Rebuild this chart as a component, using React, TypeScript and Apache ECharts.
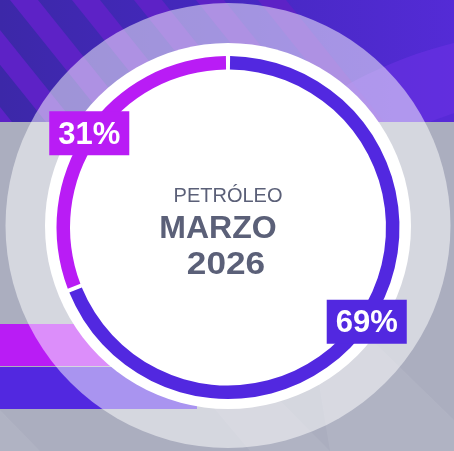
import React, { useEffect, useRef } from "react";
import * as echarts from "echarts";

// ---- data ----
const sliceNames = ["Segmento 69", "Segmento 31"];
const sliceValues = [69, 31];
const titleLines = ["PETRÓLEO", "MARZO", "2026"];

const BLUE = "#5228e0";
const MAGENTA = "#b91cf5";
const TEXT = "#5b6078";
const FONT = "'Liberation Sans', Arial, sans-serif";

export default function App() {
  const ref = useRef<HTMLDivElement>(null);
  useEffect(() => {
    if (!ref.current) return;
    const chart = echarts.init(ref.current, undefined, { renderer: "svg" });
    const W = 454;
    const H = 451;
    const TOP = 122;

    const stripes: any[] = [];
    for (let i = -3; i < 5; i++) {
      const x0 = i * 62 + 10;
      stripes.push({
        type: "polygon",
        z: 0,
        silent: true,
        shape: { points: [[x0, 0], [x0 + 28, 0], [x0 + 28 + 98, TOP], [x0 + 98, TOP]] },
        style: { fill: "#5d22c6" },
      });
    }
    const greyBands: any[] = [
      { pts: [[330, 451], [454, 451], [454, 420], [300, 270]] },
      { pts: [[250, 451], [330, 451], [200, 320], [140, 320]] },
      { pts: [[0, 410], [0, 451], [40, 451]] },
    ].map((b) => ({
      type: "polygon",
      z: 0,
      silent: true,
      shape: { points: b.pts },
      style: { fill: "rgba(255,255,255,0.07)" },
    }));

    const colors = [BLUE, MAGENTA];
    const option: any = {
      animation: false,
      graphic: [
        {
          type: "rect",
          z: 0,
          silent: true,
          shape: { x: 0, y: 0, width: W, height: TOP },
          style: {
            fill: new echarts.graphic.LinearGradient(0, 0, 1, 0, [
              { offset: 0, color: "#3c28a8" },
              { offset: 0.5, color: "#4528c0" },
              { offset: 1, color: "#542bd6" },
            ]),
          },
        },
        ...stripes,
        {
          type: "circle",
          z: 0,
          silent: true,
          shape: { cx: 560, cy: 470, r: 440 },
          style: { fill: "rgba(110,50,230,0.55)" },
        },
        {
          type: "circle",
          z: 0,
          silent: true,
          shape: { cx: 600, cy: 560, r: 470 },
          style: { fill: "rgba(80,40,210,0.6)" },
        },
        { type: "rect", z: 0, silent: true, shape: { x: 0, y: TOP, width: W, height: H - TOP }, style: { fill: "#abaebf" } },
        ...greyBands,
        // decorative bars
        { type: "rect", z: 1, silent: true, shape: { x: 0, y: 324, width: 150, height: 42 }, style: { fill: MAGENTA } },
        { type: "rect", z: 1, silent: true, shape: { x: 0, y: 367, width: 197, height: 42 }, style: { fill: BLUE } },
        // halo circles
        { type: "circle", z: 2, silent: true, shape: { cx: 228, cy: 225.5, r: 222.5 }, style: { fill: "rgba(255,255,255,0.5)" } },
        { type: "circle", z: 3, silent: true, shape: { cx: 228, cy: 226, r: 183 }, style: { fill: "#ffffff" } },
        // centre texts
        {
          type: "text", z: 12, silent: true, x: 228, y: 195,
          style: { text: titleLines[0], fill: TEXT, font: `normal 20px ${FONT}`, textAlign: "center", textVerticalAlign: "middle" },
        },
        {
          type: "text", z: 12, silent: true, x: 218, y: 227,
          style: { text: titleLines[1], fill: TEXT, font: `bold 32px ${FONT}`, textAlign: "center", textVerticalAlign: "middle" },
        },
        {
          type: "text", z: 12, silent: true, x: 226, y: 263.5, scaleX: 1.1,
          style: { text: titleLines[2], fill: TEXT, font: `bold 32px ${FONT}`, textAlign: "center", textVerticalAlign: "middle" },
        },
      ],
      series: [
        {
          type: "pie",
          z: 10,
          silent: true,
          center: [228, 227.5],
          radius: [158, 171.5],
          startAngle: 90,
          clockwise: true,
          padAngle: 1.4,
          avoidLabelOverlap: false,
          emphasis: { disabled: true },
          labelLine: { show: false },
          label: {
            show: true,
            position: "inside",
            formatter: "{c}%",
            color: "#ffffff",
            fontSize: 31,
            fontWeight: "bold",
            fontFamily: FONT,
            lineHeight: 32,
            padding: [6, 9, 6, 9],
          },
          data: sliceValues.map((v, i) => ({
            value: v,
            name: sliceNames[i],
            itemStyle: { color: colors[i] },
            label: { backgroundColor: colors[i] },
          })),
        },
      ],
    };
    chart.setOption(option);
    return () => chart.dispose();
  }, []);
  return (
    <div
      ref={ref}
      style={{ position: "fixed", left: 0, top: 0, width: 454, height: 451 }}
    />
  );
}
